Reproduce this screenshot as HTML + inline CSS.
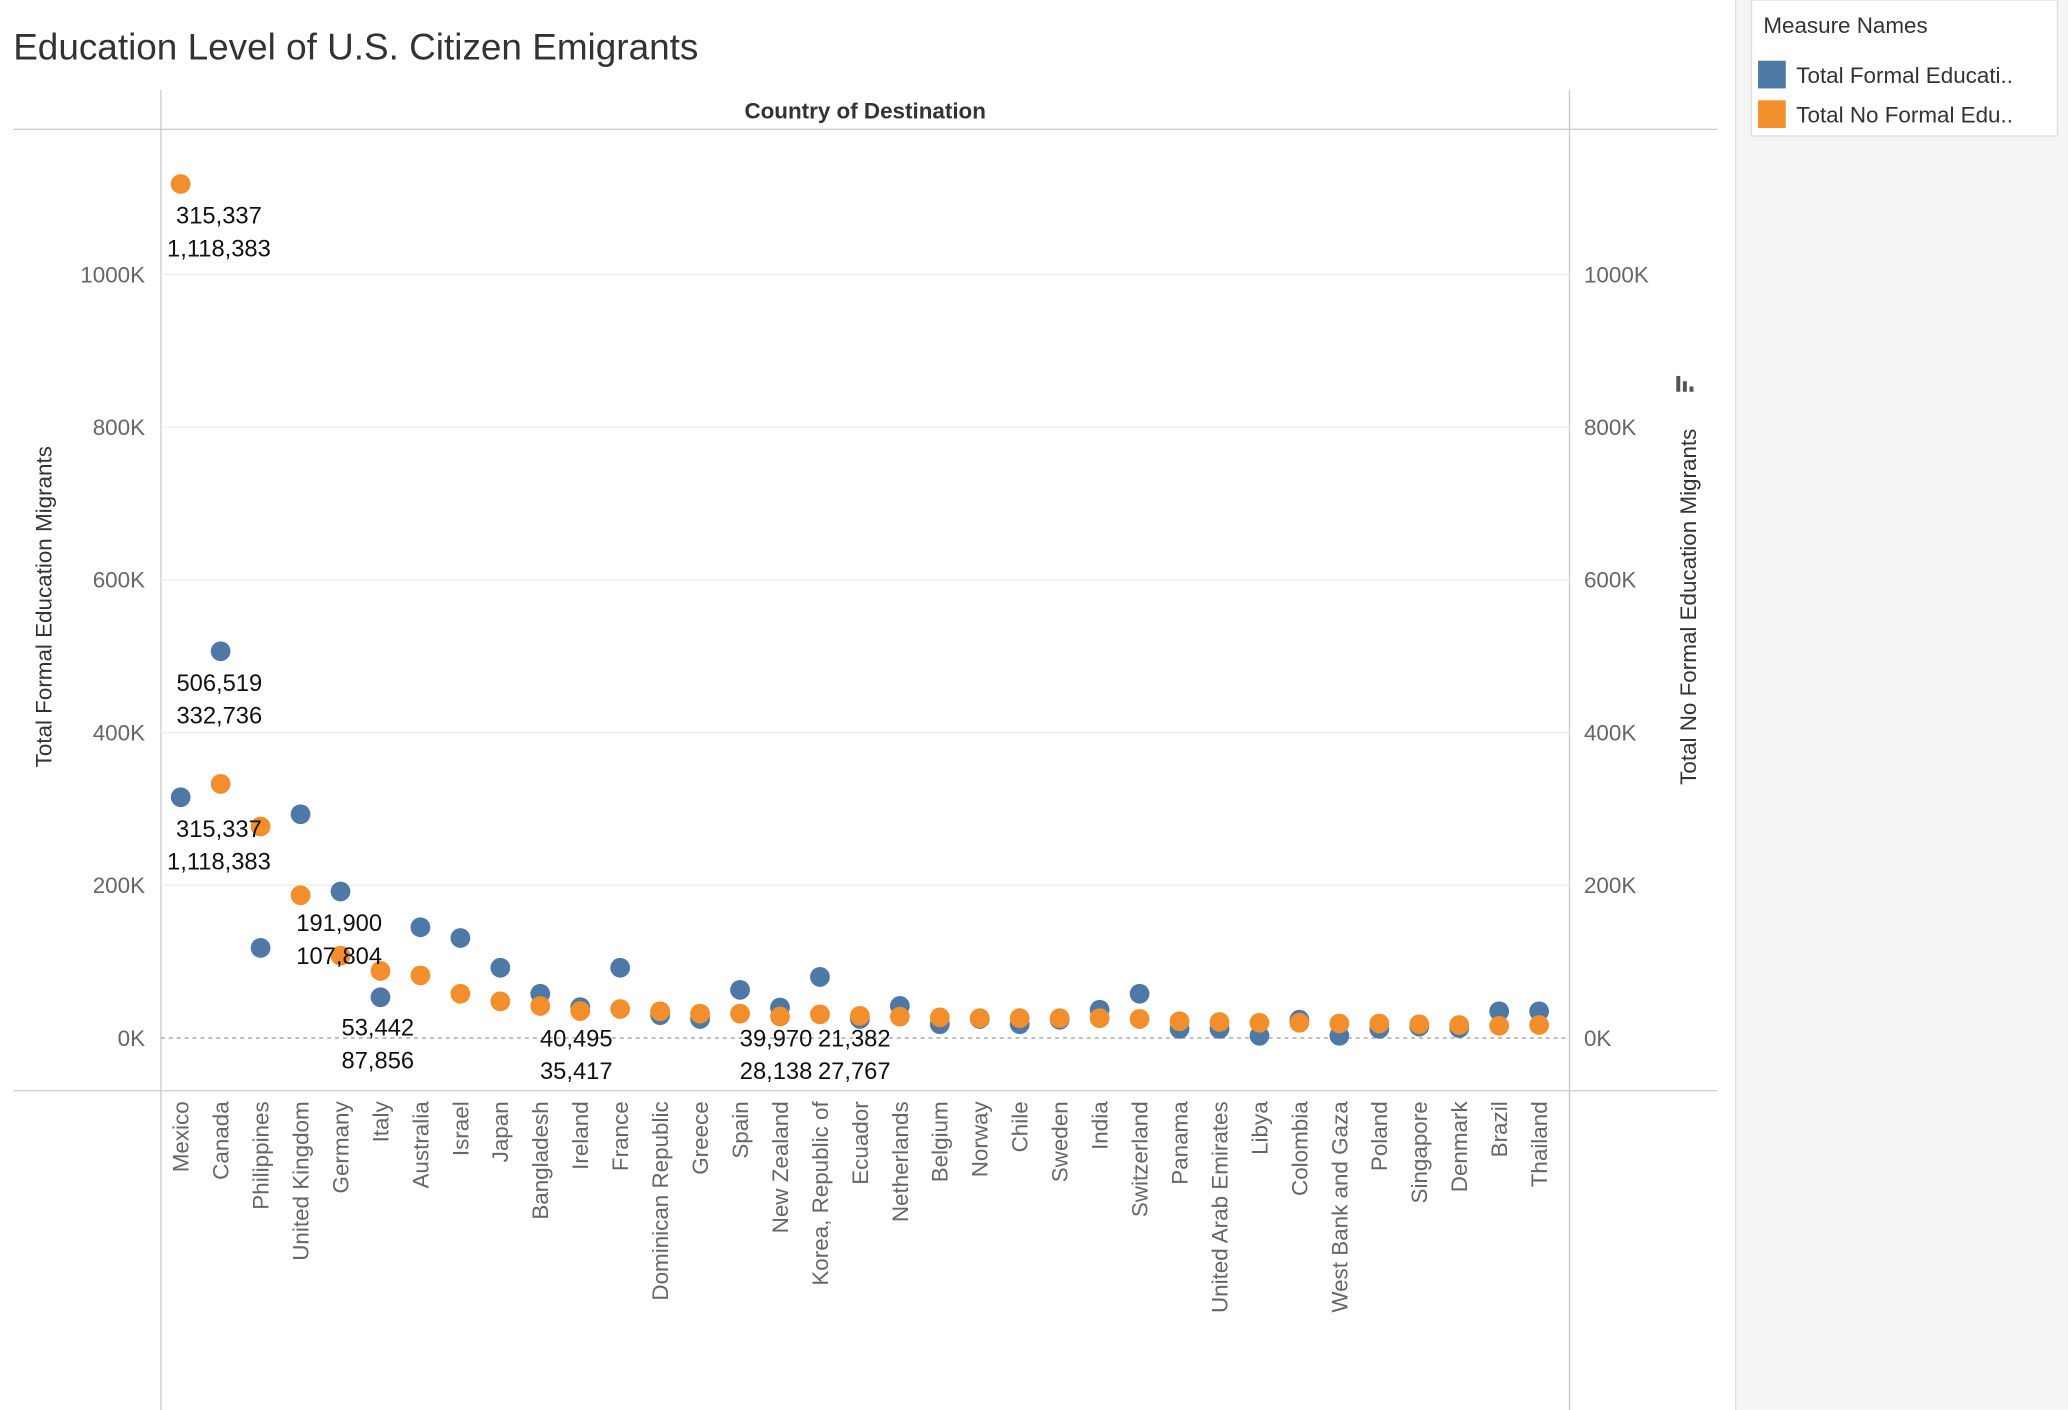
<!DOCTYPE html>
<html><head><meta charset="utf-8"><style>
html,body{margin:0;padding:0;background:#fff;}
svg{display:block;font-family:"Liberation Sans",sans-serif;}
</style></head><body>
<svg id="chart" width="2068" height="1410" viewBox="0 0 1568 1069" xmlns="http://www.w3.org/2000/svg">
<rect x="0" y="0" width="1568" height="1069" fill="#fff"/>
<text x="10" y="45" font-size="28" fill="#333">Education Level of U.S. Citizen Emigrants</text>
<rect x="1316" y="0" width="252" height="1069" fill="#f5f5f5"/>
<line x1="1316" y1="0" x2="1316" y2="1069" stroke="#ddd"/>
<rect x="1328" y="0" width="232" height="103" fill="#fff" stroke="#ddd"/>
<text x="1337" y="25" font-size="17" fill="#333">Measure Names</text>
<g><rect x="1333" y="46" width="21" height="21" fill="#4e79a7"/><text x="1362" y="63" font-size="17" fill="#333">Total Formal Educati..</text></g>
<g><rect x="1333" y="76" width="21" height="21" fill="#f28e2b"/><text x="1362" y="93" font-size="17" fill="#333">Total No Formal Edu..</text></g>
<line x1="122" y1="68" x2="122" y2="1069" stroke="#ccc"/>
<line x1="1190" y1="68" x2="1190" y2="1069" stroke="#ccc"/>
<line x1="10" y1="98" x2="1302" y2="98" stroke="#ccc"/>
<line x1="10" y1="827" x2="1302" y2="827" stroke="#ccc"/>
<text x="656" y="90" font-size="17" font-weight="bold" fill="#333" text-anchor="middle">Country of Destination</text>
<text transform="translate(39,460) rotate(-90)" font-size="17" fill="#333" text-anchor="middle">Total Formal Education Migrants</text>
<text transform="translate(1286,460) rotate(-90)" font-size="17" fill="#333" text-anchor="middle">Total No Formal Education Migrants</text>
<g fill="#555"><rect x="1271" y="285" width="3" height="12"/><rect x="1276" y="289" width="3" height="8"/><rect x="1281" y="293" width="3" height="4"/></g>
<g id="grid"></g><g id="marks"></g><g id="labels"></g>
</svg>
<script>
const categories=["Mexico","Canada","Philippines","United Kingdom","Germany","Italy","Australia","Israel","Japan","Bangladesh","Ireland","France","Dominican Republic","Greece","Spain","New Zealand","Korea, Republic of","Ecuador","Netherlands","Belgium","Norway","Chile","Sweden","India","Switzerland","Panama","United Arab Emirates","Libya","Colombia","West Bank and Gaza","Poland","Singapore","Denmark","Brazil","Thailand"];
const formalValues=[315337,506519,118000,293000,191900,53442,145000,131000,92000,58000,40495,92000,30000,25000,63000,39970,80000,25000,42000,18000,25000,18000,24000,37000,58000,12000,12000,3000,24000,3000,12000,15000,13000,35000,35000];
const noFormalValues=[1118383,332736,277000,187000,107804,87856,82000,58000,48000,42000,35417,38000,35000,32000,32000,28138,31000,29000,28000,27000,26000,26000,26000,26000,25000,22000,21000,20000,20000,19000,19000,18000,17000,16000,17000];
const tickValues=[0,200000,400000,600000,800000,1000000];
const tickLabels=["0K","200K","400K","600K","800K","1000K"];
const annotCats=[0,1,0,4,5,10,15,16];
const annotTop=["315,337","506,519","315,337","191,900","53,442","40,495","39,970","21,382"];
const annotBottom=["1,118,383","332,736","1,118,383","107,804","87,856","35,417","28,138","27,767"];
const annotY=[1118383,506519,315337,191900,55000,41000,41000,41000];
const annotDx=[29,-1,29,-1,-2,-3,-3,26];
const NS="http://www.w3.org/2000/svg";
const y=v=>787-v*579/1000000;
const x=i=>137+i*(1167-137)/34;
function mk(tag,attrs,parent,txt){const e=document.createElementNS(NS,tag);for(const k in attrs)e.setAttribute(k,attrs[k]);if(txt!==undefined)e.textContent=txt;parent.appendChild(e);return e;}
const grid=document.getElementById('grid'),marks=document.getElementById('marks'),labels=document.getElementById('labels');
tickValues.forEach((v,i)=>{
  const l=mk('line',{x1:122,x2:1190,y1:y(v),y2:y(v),stroke:v===0?'#999':'#eee','stroke-dasharray':v===0?'3,3':'none'},grid);
  
  
  const t1=mk('text',{x:110,y:y(v)+6,'font-size':17,fill:'#666','text-anchor':'end'},grid,tickLabels[i]);
  
  
  const t2=mk('text',{x:1201,y:y(v)+6,'font-size':17,fill:'#666'},grid,tickLabels[i]);
  
  
});
categories.forEach((c,i)=>{
  const t=mk('text',{transform:`translate(${x(i)+6},835) rotate(-90)`,'font-size':17,fill:'#666','text-anchor':'end'},labels,c);
  
  
  const b=mk('circle',{cx:x(i),cy:y(formalValues[i]),r:7.5,fill:'#4e79a7'},marks);
  
  
  const o=mk('circle',{cx:x(i),cy:y(noFormalValues[i]),r:7.5,fill:'#f28e2b'},marks);
  
  
});
annotCats.forEach((ci,k)=>{
  const cx=x(ci)+annotDx[k];
  const yy=y(annotY[k])+30;
  const t=mk('text',{x:cx,y:yy,'font-size':18,fill:'#111','text-anchor':'middle'},labels,annotTop[k]);
  
  
  const t2=mk('text',{x:cx,y:yy+25,'font-size':18,fill:'#111','text-anchor':'middle'},labels,annotBottom[k]);
  
  
});
</script>
</body></html>
